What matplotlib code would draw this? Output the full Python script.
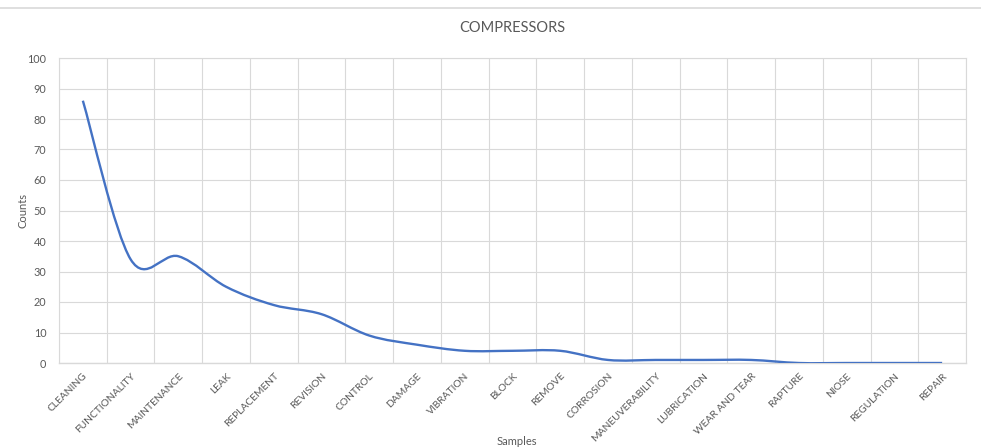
import matplotlib.pyplot as plt
from matplotlib.path import Path
from matplotlib.patches import PathPatch
from matplotlib.lines import Line2D
import numpy as np

plt.rcParams['font.family'] = ['Lato', 'DejaVu Sans']

# counts per sample category
SAMPLES = ['CLEANING', 'FUNCTIONALITY', 'MAINTENANCE', 'LEAK', 'REPLACEMENT',
           'REVISION', 'CONTROL', 'DAMAGE', 'VIBRATION', 'BLOCK', 'REMOVE',
           'CORROSION', 'MANEUVERABILITY', 'LUBRICATION', 'WEAR AND TEAR',
           'RAPTURE', 'NIOSE', 'REGULATION', 'REPAIR']
COUNTS = [86, 34, 35, 25, 19, 16, 9, 6, 4, 4, 4, 1, 1, 1, 1, 0, 0, 0, 0]
Y_TICKS = [0, 10, 20, 30, 40, 50, 60, 70, 80, 90, 100]

TEXT_COLOR = '#595959'
GRID_COLOR = '#d9d9d9'
LINE_COLOR = '#4472C4'

fig = plt.figure(figsize=(9.81, 4.48), dpi=100)
ax = fig.add_axes([59 / 981, 85 / 448, 907 / 981, 305 / 448])

# smoothed line: cubic bezier segments with catmull-rom style handles
x = np.arange(len(COUNTS), dtype=float)
y = np.array(COUNTS, dtype=float)
verts = [(x[0], y[0])]
codes = [Path.MOVETO]
n = len(x)
for i in range(n - 1):
    p0 = np.array([x[max(i - 1, 0)], y[max(i - 1, 0)]])
    p1 = np.array([x[i], y[i]])
    p2 = np.array([x[i + 1], y[i + 1]])
    p3 = np.array([x[min(i + 2, n - 1)], y[min(i + 2, n - 1)]])
    c1 = p1 + (p2 - p0) / 6.0
    c2 = p2 - (p3 - p1) / 6.0
    verts += [tuple(c1), tuple(c2), tuple(p2)]
    codes += [Path.CURVE4, Path.CURVE4, Path.CURVE4]
ax.add_patch(PathPatch(Path(verts, codes), facecolor='none',
                       edgecolor=LINE_COLOR, lw=1.7, capstyle='butt', zorder=3))

ax.set_xlim(-0.5, len(SAMPLES) - 0.5)
ax.set_ylim(0, 100)
ax.set_yticks(Y_TICKS)
ax.set_xticks(x)
ax.set_xticklabels(SAMPLES, rotation=45, ha='right', rotation_mode='anchor')
ax.set_xticks(np.arange(len(SAMPLES) + 1) - 0.5, minor=True)

ax.grid(True, axis='y', color=GRID_COLOR, lw=0.8)
ax.grid(True, axis='x', which='minor', color=GRID_COLOR, lw=0.8)
ax.set_axisbelow(True)
ax.tick_params(axis='y', length=0, colors=TEXT_COLOR, labelsize=7.8, pad=9)
ax.tick_params(axis='x', which='both', length=0, colors=TEXT_COLOR,
               labelsize=7.4, pad=6)
for s in ax.spines.values():
    s.set_color(GRID_COLOR)
    s.set_linewidth(0.8)
ax.spines['bottom'].set_linewidth(1.0)

ax.set_title('COMPRESSORS', color=TEXT_COLOR, fontsize=10.5, pad=19)
ax.set_ylabel('Counts', color=TEXT_COLOR, fontsize=8)
ax.yaxis.set_label_coords(-0.034, 0.5)
ax.set_xlabel('Samples', color=TEXT_COLOR, fontsize=8)
ax.xaxis.set_label_coords(0.505, -0.24)

# thin frame line along the top of the chart
fig.add_artist(Line2D([0, 1], [1 - 8 / 448, 1 - 8 / 448],
                      transform=fig.transFigure, color=GRID_COLOR, lw=1.2))

fig.savefig('out.png', dpi=100, facecolor='white')
